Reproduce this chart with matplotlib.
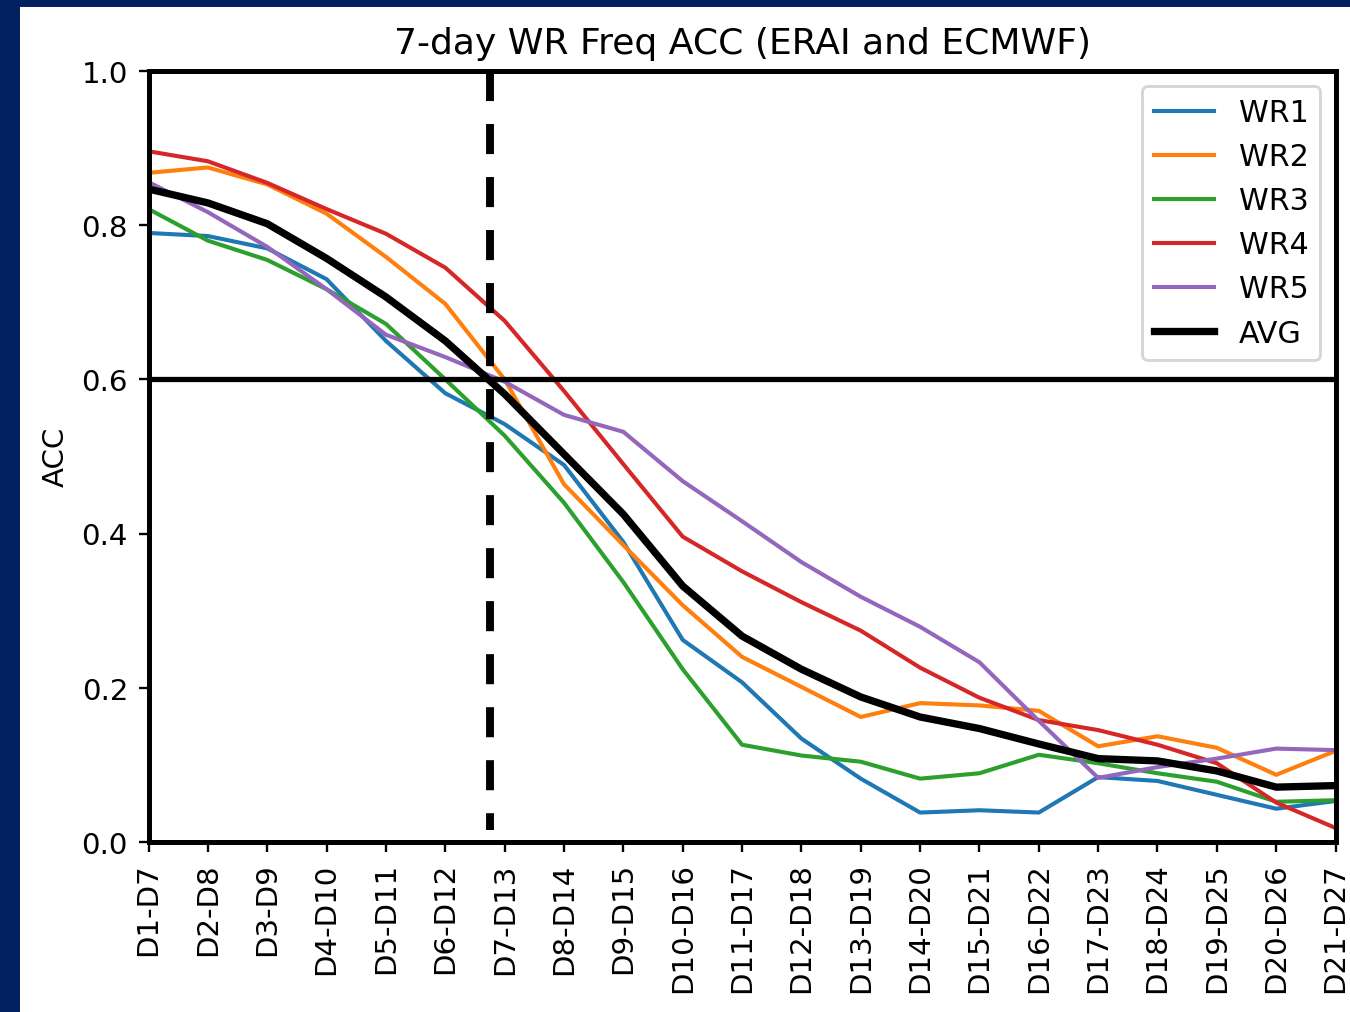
import numpy as np
import matplotlib
matplotlib.use('Agg')
import matplotlib.pyplot as plt
from matplotlib.patches import Rectangle

# lead windows (7-day averages)
windows = ['D%d-D%d' % (i, i + 6) for i in range(1, 22)]

wr1 = [0.790, 0.786, 0.770, 0.730, 0.650, 0.582, 0.542, 0.489, 0.389, 0.262, 0.207,
       0.134, 0.082, 0.038, 0.041, 0.038, 0.084, 0.079, 0.061, 0.043, 0.053]
wr2 = [0.868, 0.875, 0.853, 0.815, 0.759, 0.698, 0.600, 0.464, 0.385, 0.307, 0.240,
       0.201, 0.162, 0.180, 0.177, 0.170, 0.124, 0.137, 0.122, 0.087, 0.118]
wr3 = [0.821, 0.780, 0.755, 0.717, 0.672, 0.600, 0.527, 0.440, 0.337, 0.224, 0.126,
       0.112, 0.104, 0.082, 0.089, 0.113, 0.102, 0.089, 0.078, 0.052, 0.054]
wr4 = [0.896, 0.883, 0.855, 0.821, 0.789, 0.745, 0.676, 0.585, 0.490, 0.396, 0.351,
       0.311, 0.274, 0.226, 0.187, 0.158, 0.145, 0.126, 0.102, 0.051, 0.018]
wr5 = [0.856, 0.817, 0.772, 0.717, 0.658, 0.629, 0.597, 0.554, 0.532, 0.468, 0.416,
       0.363, 0.318, 0.279, 0.233, 0.157, 0.083, 0.097, 0.108, 0.121, 0.119]
avg = [0.847, 0.829, 0.802, 0.757, 0.707, 0.650, 0.581, 0.503, 0.425, 0.332, 0.267,
       0.224, 0.188, 0.162, 0.147, 0.127, 0.108, 0.105, 0.092, 0.071, 0.073]

skill_threshold = 0.6
cross_lead = 5.75  # where the average drops below the threshold

fig = plt.figure(figsize=(6.4, 4.8))
ax = fig.add_axes([0.110, 0.168, 0.879, 0.761])

x = np.arange(len(windows))
for vals, lab in zip([wr1, wr2, wr3, wr4, wr5], ['WR1', 'WR2', 'WR3', 'WR4', 'WR5']):
    ax.plot(x, vals, lw=1.4, label=lab)
ax.plot(x, avg, color='k', lw=2.5, label='AVG')

ax.axhline(skill_threshold, color='k', lw=1.8)
ax.plot([cross_lead, cross_lead], [1.0, 0.015], color='k', lw=2.7,
        linestyle=(0, (3.8, 2.9)))

ax.set_xlim(0, len(windows) - 1)
ax.set_ylim(0, 1.0)
ax.set_xticks(x)
ax.set_xticklabels(windows, rotation=90)
ax.set_yticks(np.arange(0, 1.01, 0.2))
ax.set_ylabel('ACC')
ax.set_title('7-day WR Freq ACC (ERAI and ECMWF)', fontsize=12.35)
for s in ax.spines.values():
    s.set_linewidth(1.7)
ax.legend(loc='upper right', fontsize=10.3)

# navy slide border
fig.patches.append(Rectangle((0, 0), 18 / 1350, 1, transform=fig.transFigure,
                             color='#002060', zorder=10))
fig.patches.append(Rectangle((0, 1 - 6 / 1013), 1, 6 / 1013, transform=fig.transFigure,
                             color='#002060', zorder=10))

fig.savefig('out.png', dpi=211)
